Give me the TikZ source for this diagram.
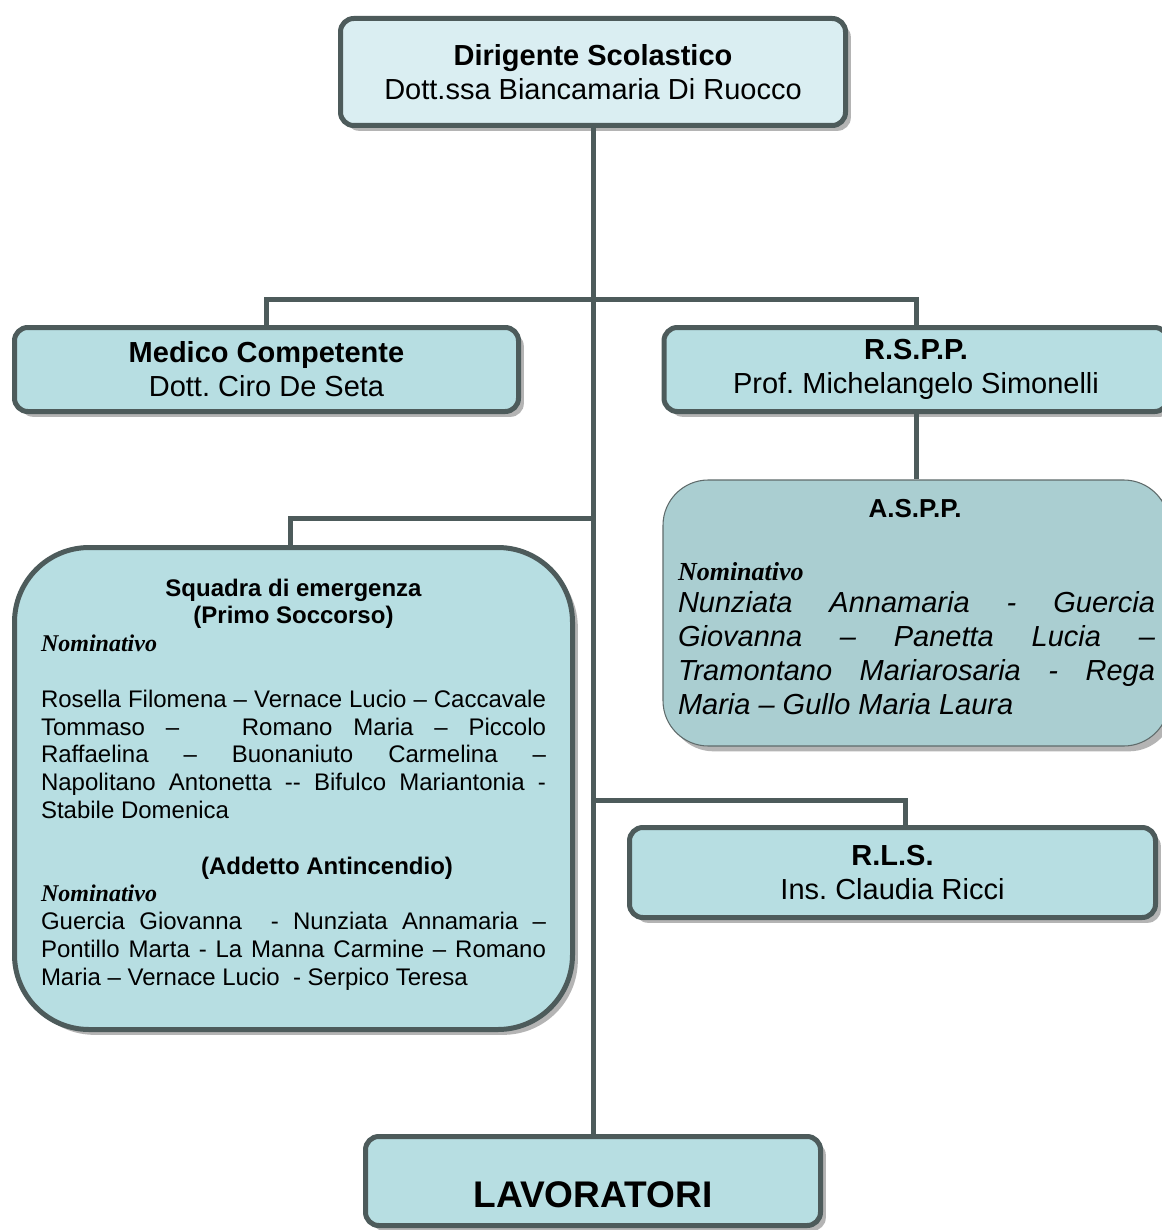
\documentclass[tikz,border=0pt]{standalone}
\usepackage{fontspec}
\setmainfont{Liberation Sans}
\newfontfamily\timesf{Liberation Serif}
\usetikzlibrary{shadows,calc}
\newdimen\pxu \pxu=0.75pt
\definecolor{bord}{HTML}{4D5B5B}
\definecolor{boxfill}{HTML}{B7DEE2}
\definecolor{topfill}{HTML}{DAEEF2}
\definecolor{asppfill}{HTML}{AACED1}
\definecolor{shadowc}{HTML}{B4B4B4}
\tikzset{
  orgbox/.style={draw=bord, line width=3.75pt, rounded corners=10pt, fill=boxfill,
    drop shadow={shadow xshift=4pt, shadow yshift=-4pt, fill=shadowc, opacity=1},
    inner sep=0pt, align=center, font=\fontsize{21.75pt}{25.5pt}\selectfont},
  conn/.style={draw=bord, line width=3.75pt},
  txt/.style={inner sep=0pt, outer sep=0pt},
}
\begin{document}
\frenchspacing
\begin{tikzpicture}[x=0.75pt,y=-0.75pt]
\useasboundingbox (0,0) rectangle (1162,1230);
\clip (0,0) rectangle (1162,1230);
\fill[white] (0,0) rectangle (1162,1230);

% boxes
\node[orgbox, fill=topfill, minimum width=505\pxu, minimum height=107\pxu] (dir) at (593,72)
  {\textbf{Dirigente Scolastico}\\Dott.ssa Biancamaria Di Ruocco};
\node[orgbox, minimum width=504\pxu, minimum height=84\pxu] (med) at (266.5,369.5)
  {\textbf{Medico Competente}\\Dott. Ciro De Seta};
\node[orgbox, minimum width=504\pxu, minimum height=84\pxu] (rspp) at (916,369.5)
  {\textbf{R.S.P.P.}\\Prof. Michelangelo Simonelli};
\node[orgbox, draw=bord!90, line width=0.8pt, fill=asppfill, rounded corners=34pt,
  minimum width=506\pxu, minimum height=266\pxu] (aspp) at (916,613) {};
\node[orgbox, rounded corners=56pt, minimum width=558\pxu, minimum height=482\pxu] (sq) at (293.5,788.5) {};
\node[orgbox, minimum width=526\pxu, minimum height=90\pxu] (rls) at (892.5,872.5)
  {\textbf{R.L.S.}\\Ins. Claudia Ricci};
\node[orgbox, minimum width=455\pxu, minimum height=89\pxu] (lav) at (593,1181) {};

% texts of the large boxes
\node[txt, anchor=base, font=\fontsize{27.8pt}{30pt}\selectfont\bfseries] (lavt) at (593,1207) {LAVORATORI};

\node[txt, anchor=base, font=\fontsize{19.5pt}{22pt}\selectfont\bfseries] (asppt) at (915,517) {A.S.P.P.};
\node[txt, anchor=base west, font=\fontsize{19.5pt}{22pt}\selectfont\timesf\bfseries\itshape] (asppn) at (678,580) {Nominativo};
\node[txt, anchor=base west] (asppl) at (678,612.5) {\parbox[t]{477\pxu}{\parindent0pt\tolerance10000\hyphenpenalty10000
  \fontsize{21.75pt}{25.5pt}\selectfont\itshape
  Nunziata Annamaria - Guercia\linebreak
  Giovanna – Panetta Lucia –\linebreak
  Tramontano Mariarosaria - Rega\linebreak
  Maria – Gullo Maria Laura}};

\node[txt, anchor=base west] (sqt) at (41,596) {\parbox[t]{505\pxu}{\parindent0pt\tolerance10000\hyphenpenalty10000
  \fontsize{18pt}{20.85pt}\selectfont
  {\centering\bfseries Squadra di emergenza\\(Primo Soccorso)\par}
  {\timesf\bfseries\itshape Nominativo}\par
  \mbox{}\par
  Rosella Filomena – Vernace Lucio – Caccavale\linebreak
  Tommaso – \ \ Romano Maria – Piccolo\linebreak
  Raffaelina – Buonaniuto Carmelina –\linebreak
  Napolitano Antonetta -{}- Bifulco Mariantonia -\linebreak
  Stabile Domenica\par
  \mbox{}\par
  {\centering\hspace*{67\pxu}\bfseries (Addetto Antincendio)\par}
  {\timesf\bfseries\itshape Nominativo}\par
  Guercia Giovanna \ - Nunziata Annamaria –\linebreak
  Pontillo Marta - La Manna Carmine – Romano\linebreak
  Maria – Vernace Lucio\ \ - Serpico Teresa\par}};

% connectors
\coordinate (j1) at (593,300);
\coordinate (j2) at (593,518);
\coordinate (j3) at (593,800);
\draw[conn] (dir.south) -- (lav.north);
\draw[conn] (med.north) |- (j1) -| (rspp.north);
\draw[conn] (rspp.south) -- (aspp.north);
\draw[conn] (j2) -| ($(sq.north)+(-3,0)$);
\draw[conn] (j3) -| ($(rls.north)+(12.5,0)$);
\end{tikzpicture}
\end{document}
